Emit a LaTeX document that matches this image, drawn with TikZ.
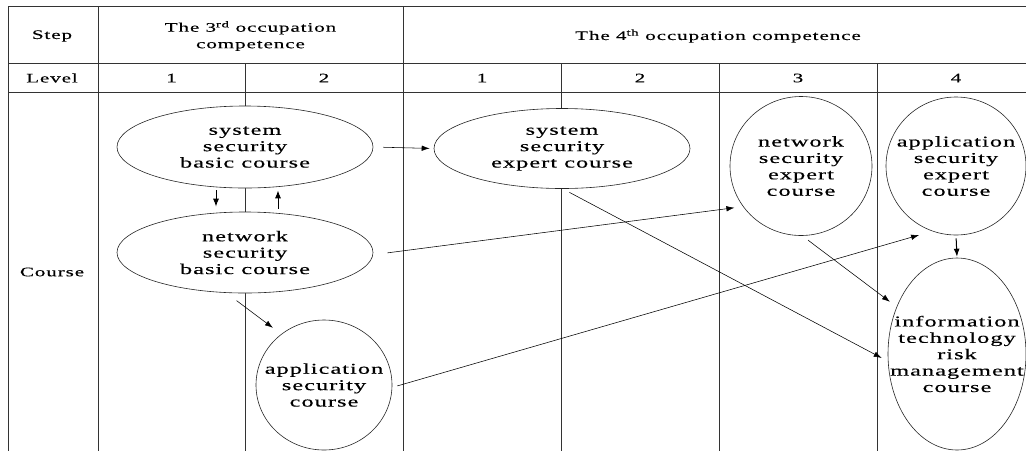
\documentclass[tikz,border=0pt]{standalone}
\usepackage{fontspec}
\setmainfont{Liberation Serif}[FakeStretch=1.62,LetterSpace=7,FakeBold=0.3]
\usetikzlibrary{arrows.meta,shapes.geometric}
\begin{document}
\begin{tikzpicture}[x=1pt,y=-1pt,
  grid/.style={line width=1pt, draw=black!80},
  ell/.style={ellipse, draw=black!85, fill=white, line width=0.6pt, inner sep=0pt},
  lbl/.style={align=center, inner sep=0pt, font=\fontsize{15}{16.4}\selectfont},
  tbl/.style={align=center, inner sep=0pt, font=\fontsize{13}{16.5}\selectfont},
  arr/.style={-{Latex[length=8pt,width=5.5pt]}, line width=0.55pt},
  varr/.style={-{Latex[length=8pt,width=6pt]}, line width=1pt},
]
\useasboundingbox (0,0) rectangle (1026,451);
% table grid
\draw[grid] (8,6) -- (1026,6);
\draw[grid] (8,63) -- (1026,63);
\draw[grid] (8,92) -- (1026,92);
\draw[grid] (8,6) -- (8,451);
\draw[grid] (98,6) -- (98,451);
\draw[grid] (245,63) -- (245,451);
\draw[grid] (403,6) -- (403,451);
\draw[grid] (561,63) -- (561,451);
\draw[grid] (719,63) -- (719,451);
\draw[grid] (877,63) -- (877,451);
% header texts
\node[tbl] (hstep) at (52,36) {Step};
\node[tbl] (h3) at (250.5,36) {The 3\textsuperscript{rd} occupation\\competence};
\node[tbl] (h4) at (718,36) {The 4\textsuperscript{th} occupation competence};
\node[tbl] (hlevel) at (52,78) {Level};
\node[tbl] (l1) at (171.5,78) {1};
\node[tbl] (l2) at (324,78) {2};
\node[tbl] (l3) at (482,78) {1};
\node[tbl] (l4) at (640,78) {2};
\node[tbl] (l5) at (798,78) {3};
\node[tbl] (l6) at (956,78) {4};
\node[tbl] (hcourse) at (52,272) {Course};
% ellipses
\node[ell, minimum width=256pt, minimum height=82pt] (sb) at (245,147) {};
\node[ell, minimum width=256pt, minimum height=81pt] (nb) at (245,252.5) {};
\node[ell, minimum width=256pt, minimum height=80pt] (se) at (562,148.5) {};
\node[ell, minimum width=142pt, minimum height=139pt] (ne) at (801,166) {};
\node[ell, minimum width=140pt, minimum height=138pt] (ae) at (956,166) {};
\node[ell, minimum width=138pt, minimum height=192pt] (it) at (957,354) {};
\node[ell, minimum width=136pt, minimum height=130pt] (ac) at (324,385) {};
% ellipse texts
\node[lbl] (sbt) at (sb.center) {system\\security\\basic course};
\node[lbl] (nbt) at (nb.center) {network\\security\\basic course};
\node[lbl] (set) at (se.center) {system\\security\\expert course};
\node[lbl] (net) at (ne.center) {network\\security\\expert\\course};
\node[lbl] (aet) at (ae.center) {application\\security\\expert\\course};
\node[lbl] (itt) at (it.center) {information\\technology\\risk\\management\\course};
\node[lbl] (act) at (ac.center) {application\\security\\course};
% connectors
\draw[arr, shorten <=10pt, shorten >=4pt] (sb.east) -- (se.west);
\draw[varr, shorten <=2pt, shorten >=5pt] ([xshift=-29pt]sb.south) -- ([xshift=-29pt]nb.north);
\draw[varr, shorten <=3pt, shorten >=2pt] ([xshift=33pt]nb.north) -- ([xshift=33pt]sb.south);
\draw[arr, shorten <=14.4pt, shorten >=8.7pt] (nb.-1.3) -- (ne.215.5);
\draw[arr, shorten <=13pt, shorten >=10.4pt] (nb.245.6) -- (ac.130.2);
\draw[arr, shorten <=5.2pt, shorten >=13.7pt] (ac.-2) -- (ae.250.7);
\draw[varr, shorten <=3pt, shorten >=1pt] (ae.south) -- (it.north);
\draw[arr, shorten <=7.3pt, shorten >=8.3pt] (ne.-89) -- (it.142.8);
\draw[arr, shorten <=7.6pt, shorten >=7pt] (se.-89.6) -- (it.186);
\end{tikzpicture}
\end{document}
